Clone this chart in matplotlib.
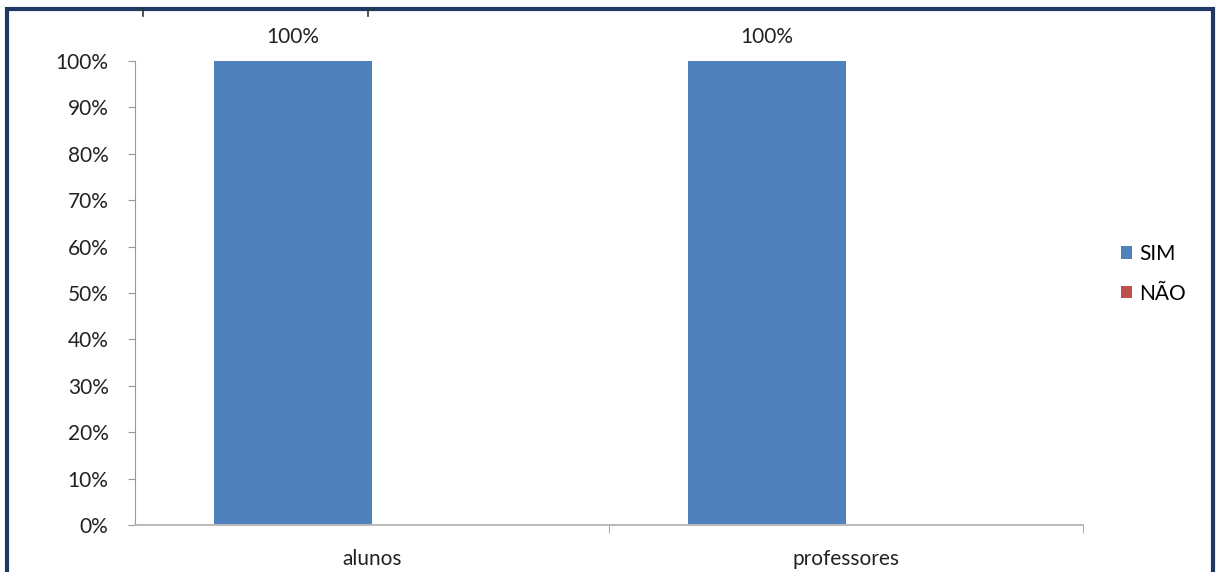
import matplotlib
matplotlib.use("Agg")
import matplotlib.pyplot as plt
from matplotlib.patches import Rectangle
from matplotlib.lines import Line2D
import numpy as np

categories = ["alunos", "professores"]
sim_values = [100, 100]
nao_values = [0, 0]
series_names = ["SIM", "NÃO"]
ytick_values = [0, 10, 20, 30, 40, 50, 60, 70, 80, 90, 100]
ytick_labels = [f"{v}%" for v in ytick_values]

plt.rcParams['font.family'] = ['Lato', 'DejaVu Sans']

W, H = 1217, 572
fig = plt.figure(figsize=(W / 100, H / 100), dpi=100)
ax = fig.add_axes([135 / W, 1 - 525 / H, (1083 - 135) / W, (525 - 61) / H])

x = np.arange(len(categories))
bw = 1 / 3
blue = "#4F81BD"
red = "#C0504D"
b1 = ax.bar(x - bw / 2, sim_values, bw, color=blue, label=series_names[0])
b2 = ax.bar(x + bw / 2, nao_values, bw, color=red, label=series_names[1])

for rect, v in zip(b1, sim_values):
    ax.text(rect.get_x() + rect.get_width() / 2, v + 3.0, f"{v}%",
            ha="center", va="bottom", fontsize=15, color="#222222")

ax.set_xlim(-0.5, len(categories) - 0.5)
ax.set_ylim(0, 100)
ax.set_yticks(ytick_values)
ax.set_yticklabels(ytick_labels, fontsize=15, color="#222222")
ax.set_xticks(x)
ax.set_xticklabels(categories, fontsize=15, color="#222222")
ax.tick_params(axis="x", length=0, pad=17)
ax.set_xticks(np.arange(len(categories)) + 0.5, minor=True)
ax.tick_params(axis="x", which="minor", length=6, color="#999999", direction="out")
ax.tick_params(axis="y", length=5, color="#999999", pad=14)

for s in ["top", "right"]:
    ax.spines[s].set_visible(False)
ax.spines["left"].set_color("#999999")
ax.spines["bottom"].set_color("#BBBBBB")
ax.spines["bottom"].set_linewidth(1.5)

leg = fig.legend(handles=[b1, b2], labels=series_names, loc="upper left",
                 bbox_to_anchor=(1102 / W, 1 - 225 / H), frameon=False,
                 fontsize=15, handlelength=0.55, handleheight=0.55,
                 handletextpad=0.35, labelspacing=0.95)

# outer frame
fig.patches.append(Rectangle((7 / W, -0.05), (1213 - 7) / W, 1.05 - 9 / H,
                             transform=fig.transFigure, fill=False,
                             edgecolor="#1F3864", linewidth=3))
for px in [143, 368]:
    fig.add_artist(Line2D([px / W, px / W], [1 - 9 / H, 1 - 16 / H],
                          transform=fig.transFigure, color="#333333", lw=1.2))

fig.savefig("out.png", dpi=100)
